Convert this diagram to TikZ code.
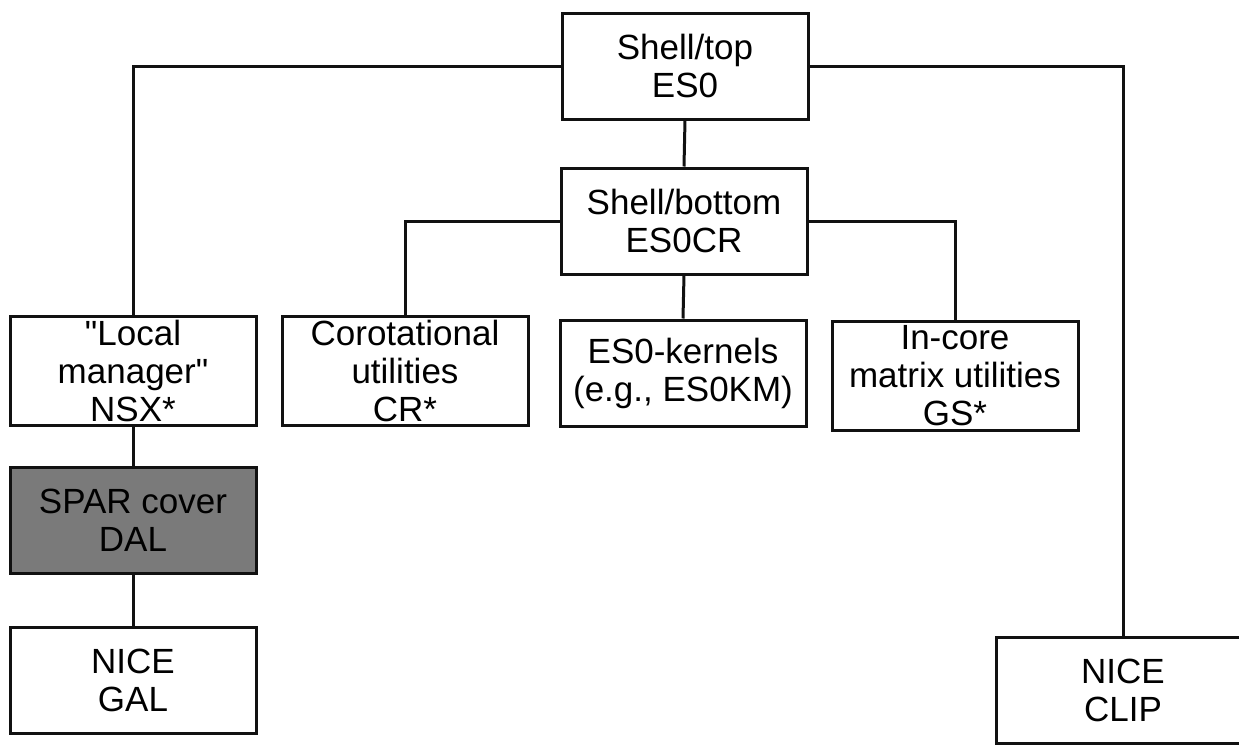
\documentclass[tikz,border=0pt]{standalone}
\usepackage{fontspec}
\setmainfont{Liberation Sans}[Ligatures=TeXOff]
\usetikzlibrary{positioning}
\definecolor{cink}{HTML}{111111}
\definecolor{cshade}{HTML}{7A7A7A}
\tikzset{
  every picture/.style={font=\fontsize{17.5}{19}\selectfont, line width=1.5pt},
  box/.style={draw=cink, fill=white, align=center, inner sep=2pt, minimum width=123pt, minimum height=53pt},
  shaded/.style={box, fill=cshade},
  link/.style={draw=cink, line width=1.5pt},
}
\begin{document}
\begin{tikzpicture}[x=0.5pt, y=-0.5pt]
  \useasboundingbox (0,0) rectangle (1239,745);
  \clip (0,0) rectangle (1239,745);
  % shell levels
  \node[box] (top) at (685,66) {Shell/top\\ES0};
  \node[box] (bottom) at (684,221) {Shell/bottom\\ES0CR};
  % second row
  \node[box] (local) at (133,371) {"Local\\manager"\\NSX*};
  \node[box] (corot) at (405,371) {Corotational\\utilities\\CR*};
  \node[box] (kern) at (683,373) {ES0-kernels\\(e.g., ES0KM)};
  \node[box] (incore) at (955,376) {In-core\\matrix utilities\\GS*};
  % left chain
  \node[shaded] (spar) at (133,520) {SPAR cover\\DAL};
  \node[box] (gal) at (133,680) {NICE\\GAL};
  % right branch
  \node[box, minimum width=127pt] (clip) at (1123,690) {NICE\\CLIP};
  % connectors
  \draw[link] (top.west) -| (local.north);
  \draw[link] (top.east) -| (clip.north);
  \draw[link] (top.south) -- (bottom.north);
  \draw[link] (bottom.west) -| (corot.north);
  \draw[link] (bottom.east) -| (incore.north);
  \draw[link] (bottom.south) -- (kern.north);
  \draw[link] (local.south) -- (spar.north);
  \draw[link] (spar.south) -- (gal.north);
\end{tikzpicture}
\end{document}
